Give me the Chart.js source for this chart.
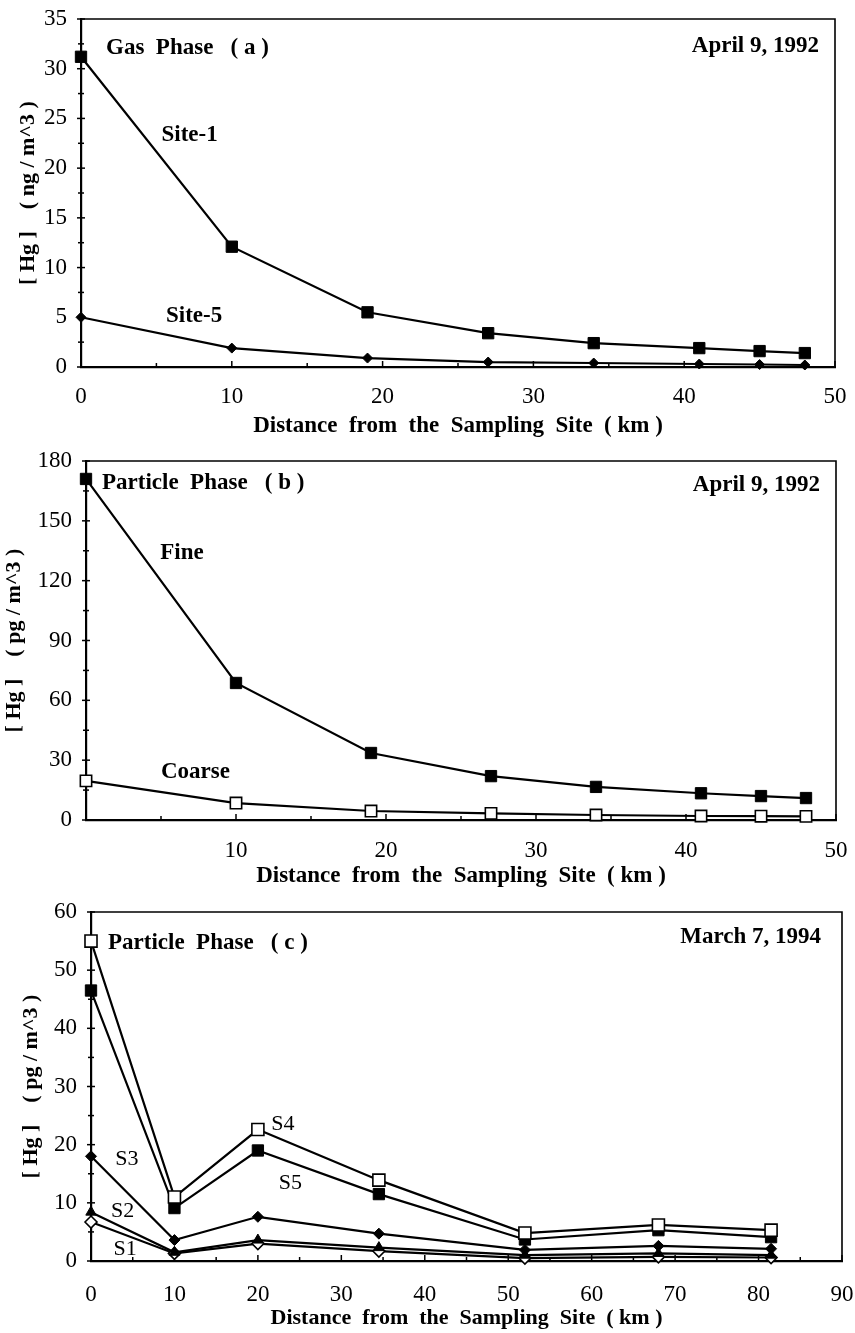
<!DOCTYPE html>
<html><head><meta charset="utf-8">
<script src="https://cdn.jsdelivr.net/npm/chart.js@4/dist/chart.umd.min.js"></script>
<style>
html,body{margin:0;padding:0;background:#fff;}
body{width:855px;height:1333px;position:relative;overflow:hidden;}
canvas{position:absolute;left:0;}
</style></head><body>
<canvas id="ca" width="855" height="440" style="top:0px"></canvas>
<canvas id="cb" width="855" height="452" style="top:440px"></canvas>
<canvas id="cc" width="855" height="441" style="top:892px"></canvas>
<script>
// ---- data ----
const distA = [0, 10, 19, 27, 34, 41, 45, 48];
const site1 = [31.2, 12.1, 5.5, 3.4, 2.4, 1.9, 1.6, 1.4];
const site5 = [5.0, 1.9, 0.9, 0.5, 0.4, 0.3, 0.25, 0.2];

const distB = [0, 10, 19, 27, 34, 41, 45, 48];
const fine = [171, 68.7, 33.6, 22, 16.6, 13.4, 12, 11];
const coarse = [19.6, 8.5, 4.5, 3.3, 2.5, 2.0, 1.9, 1.8];

const distC = [0, 10, 20, 34.5, 52, 68, 81.5];
const s4 = [55, 11, 22.6, 13.9, 4.8, 6.2, 5.3];
const s5 = [46.5, 9.1, 19.0, 11.5, 3.7, 5.3, 4.1];
const s3 = [18, 3.6, 7.6, 4.7, 1.9, 2.6, 2.1];
const s2 = [8.4, 1.5, 3.6, 2.3, 1.0, 1.3, 1.0];
const s1 = [6.7, 1.3, 3.0, 1.7, 0.5, 0.7, 0.6];

const xTitle = 'Distance  from  the  Sampling  Site  ( km )';
const yTitleA = '[ Hg ]    ( ng / m^3 )';
const yTitleB = '[ Hg ]    ( pg / m^3 )';
const yTitleC = '[ Hg ]    ( pg / m^3 )';

// ---- helpers ----
const SERIF = '"Liberation Serif", "Times New Roman", serif';
const pts = (xs, ys) => xs.map((v, i) => ({x: v, y: ys[i]}));

const frameTicks = {
  id: 'frameTicks',
  beforeDatasetsDraw(chart) {
    const {ctx, chartArea: a, scales: {x, y}} = chart;
    ctx.save();
    ctx.strokeStyle = '#000';
    ctx.lineWidth = 1.6;
    ctx.beginPath();
    ctx.moveTo(a.left, a.top); ctx.lineTo(a.right, a.top); ctx.lineTo(a.right, a.bottom);
    ctx.stroke();
    ctx.lineWidth = 1.5;
    y.ticks.forEach(t => {
      const py = y.getPixelForValue(t.value);
      const L = t.label !== '' ? 4 : 3;
      ctx.beginPath(); ctx.moveTo(a.left - L, py); ctx.lineTo(a.left + L, py); ctx.stroke();
    });
    x.ticks.forEach(t => {
      const px = x.getPixelForValue(t.value);
      const L = t.label !== '' ? 6 : 4;
      ctx.beginPath(); ctx.moveTo(px, a.bottom); ctx.lineTo(px, a.bottom - L); ctx.stroke();
    });
    ctx.restore();
  }
};

function notesPlugin(items) {
  return {
    id: 'notes',
    afterDraw(chart) {
      const {ctx, chartArea: a, scales: {x, y}} = chart;
      ctx.save();
      ctx.fillStyle = '#000';
      ctx.textBaseline = 'middle';
      items.forEach(it => {
        ctx.font = it.font;
        ctx.textAlign = it.align || 'left';
        let px, py;
        if (it.data) { px = x.getPixelForValue(it.x); py = y.getPixelForValue(it.y); }
        else { px = it.x >= 0 ? a.left + it.x : a.right + it.x; py = a.top + it.y; }
        ctx.fillText(it.text, px, py);
      });
      ctx.restore();
    }
  };
}

function lineDs(xs, ys, style, radius, filled) {
  return {
    data: pts(xs, ys),
    borderColor: '#000', borderWidth: 2.2, tension: 0, fill: false, clip: false,
    pointStyle: style, pointRadius: radius, pointHoverRadius: radius,
    pointBackgroundColor: filled ? '#000' : '#fff',
    pointBorderColor: '#000', pointBorderWidth: filled ? 1 : 1.6
  };
}

function makeChart(id, cfg) {
  const tickFont = {family: SERIF, size: 23};
  return new Chart(document.getElementById(id), {
    type: 'line',
    data: {datasets: cfg.datasets},
    options: {
      responsive: false, animation: false, devicePixelRatio: 1,
      events: [],
      layout: {padding: {top: cfg.top, right: cfg.right, bottom: 0, left: 0}},
      plugins: {legend: {display: false}, tooltip: {enabled: false}},
      scales: {
        x: {
          type: 'linear', min: cfg.xmin, max: cfg.xmax,
          afterFit: s => { s.height = cfg.xh; s.paddingLeft = 0; s.paddingRight = 0; },
          grid: {display: false, drawTicks: false},
          border: {display: true, color: '#000', width: 2.2},
          ticks: {stepSize: cfg.xstep, autoSkip: false, maxRotation: 0, padding: cfg.xpad, color: '#000', font: tickFont,
                  callback: cfg.xcb},
          title: {display: true, text: xTitle, color: '#000',
                  font: {family: SERIF, size: cfg.titleSize, weight: 'bold'}, padding: {top: 0, bottom: cfg.tpb}}
        },
        y: {
          type: 'linear', min: cfg.ymin, max: cfg.ymax,
          afterFit: s => { s.width = cfg.left; s.paddingTop = 0; s.paddingBottom = 0; },
          grid: {display: false, drawTicks: false},
          border: {display: true, color: '#000', width: 2.2},
          ticks: {stepSize: cfg.ystep, autoSkip: false, padding: 14, color: '#000', font: tickFont,
                  callback: cfg.ycb},
          title: {display: true, text: cfg.ytitle, color: '#000',
                  font: {family: SERIF, size: 22, weight: 'bold'}, padding: {top: cfg.ytp, bottom: 0}}
        }
      }
    },
    plugins: [frameTicks, notesPlugin(cfg.notes)]
  });
}

const B23 = 'bold 23px ' + SERIF;
const R21 = '22px ' + SERIF;

// Panel (a)
makeChart('ca', {
  top: 19, right: 20, left: 81, xh: 73, xpad: 16, tpb: 0, titleSize: 23, ytp: 15,
  xmin: 0, xmax: 50, xstep: 5, xcb: v => (v % 10 === 0 ? String(v) : ''),
  ymin: 0, ymax: 35, ystep: 2.5, ycb: v => (v % 5 === 0 ? String(v) : ''),
  ytitle: yTitleA,
  datasets: [lineDs(distA, site1, 'rect', 8, true), lineDs(distA, site5, 'rectRot', 5, true)],
  notes: [
    {text: 'Gas  Phase   ( a )', font: B23, x: 25, y: 29},
    {text: 'April 9, 1992', font: B23, x: -16, y: 27, align: 'right'},
    {text: 'Site-1', font: B23, data: true, x: 7.2, y: 23.3, align: 'center'},
    {text: 'Site-5', font: B23, data: true, x: 7.5, y: 5.1, align: 'center'}
  ]
});

// Panel (b)
makeChart('cb', {
  top: 21, right: 19, left: 86, xh: 72, xpad: 17, tpb: 2, titleSize: 23, ytp: 1,
  xmin: 0, xmax: 50, xstep: 5, xcb: v => (v % 10 === 0 && v !== 0 ? String(v) : ''),
  ymin: 0, ymax: 180, ystep: 15, ycb: v => (v % 30 === 0 ? String(v) : ''),
  ytitle: yTitleB,
  datasets: [lineDs(distB, fine, 'rect', 8, true), lineDs(distB, coarse, 'rect', 8, false)],
  notes: [
    {text: 'Particle  Phase   ( b )', font: B23, x: 16, y: 22},
    {text: 'April 9, 1992', font: B23, x: -16, y: 24, align: 'right'},
    {text: 'Fine', font: B23, data: true, x: 6.4, y: 134, align: 'center'},
    {text: 'Coarse', font: B23, data: true, x: 7.3, y: 24, align: 'center'}
  ]
});

// Panel (c)
makeChart('cc', {
  top: 20, right: 13, left: 91, xh: 72, xpad: 20, tpb: 1, titleSize: 22, ytp: 18,
  xmin: 0, xmax: 90, xstep: 5, xcb: v => (v % 10 === 0 ? String(v) : ''),
  ymin: 0, ymax: 60, ystep: 5, ycb: v => (v % 10 === 0 ? String(v) : ''),
  ytitle: yTitleC,
  datasets: [
    lineDs(distC, s4, 'rect', 8.5, false),
    lineDs(distC, s5, 'rect', 8, true),
    lineDs(distC, s3, 'rectRot', 5.5, true),
    lineDs(distC, s2, 'triangle', 6, true),
    lineDs(distC, s1, 'rectRot', 6, false)
  ],
  notes: [
    {text: 'Particle  Phase   ( c )', font: B23, x: 17, y: 31},
    {text: 'March 7, 1994', font: B23, x: -21, y: 25, align: 'right'},
    {text: 'S4', font: R21, data: true, x: 23, y: 23.5, align: 'center'},
    {text: 'S5', font: R21, data: true, x: 23.9, y: 13.3, align: 'center'},
    {text: 'S3', font: R21, data: true, x: 4.3, y: 17.5, align: 'center'},
    {text: 'S2', font: R21, data: true, x: 3.8, y: 8.6, align: 'center'},
    {text: 'S1', font: R21, data: true, x: 4.1, y: 2.1, align: 'center'}
  ]
});
</script>
</body></html>
